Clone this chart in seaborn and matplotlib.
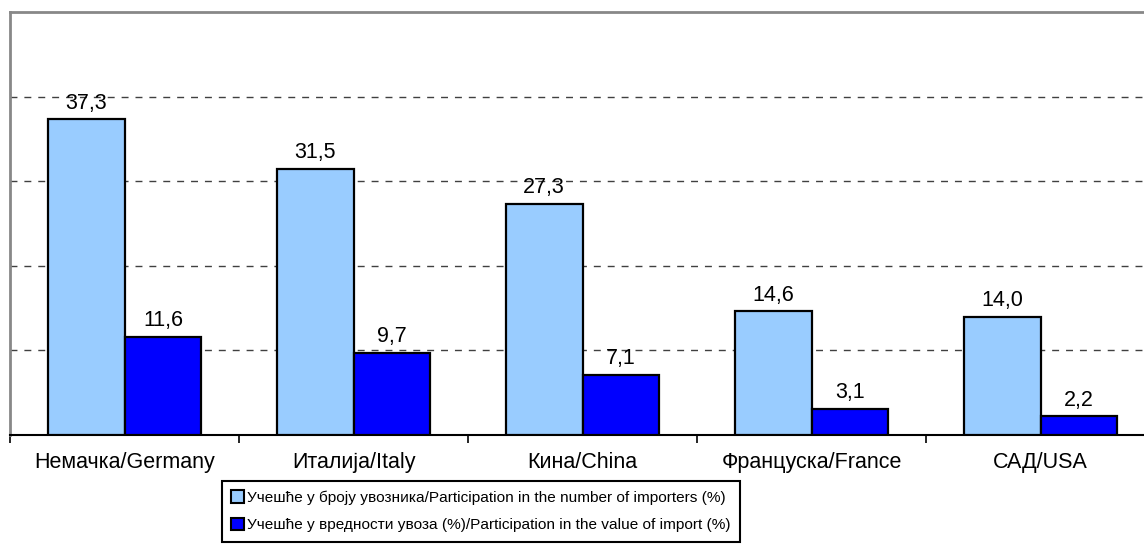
import matplotlib
matplotlib.use("Agg")
import matplotlib.pyplot as plt
import pandas as pd
import seaborn as sns
from matplotlib.patches import Patch

sns.set_theme(style="white")
plt.rcParams["font.family"] = ["Liberation Sans", "DejaVu Sans"]
plt.rcParams["text.color"] = "black"
plt.rcParams["xtick.color"] = "black"
plt.rcParams["xtick.labelcolor"] = "black"

countries = ["Немачка/Germany", "Италија/Italy", "Кина/China", "Француска/France", "САД/USA"]
importers_share = [37.3, 31.5, 27.3, 14.6, 14.0]
value_share = [11.6, 9.7, 7.1, 3.1, 2.2]
series_names = [
    "Учешће у броју увозника/Participation in the number of importers (%)",
    "Учешће у вредности увоза (%)/Participation in the value of import (%)",
]
colors = ["#99CCFF", "#0000FF"]

df = pd.DataFrame({
    "country": countries * 2,
    "value": importers_share + value_share,
    "series": [series_names[0]] * len(countries) + [series_names[1]] * len(countries),
})

fig = plt.figure(figsize=(11.44, 5.5), dpi=100)
ax = fig.add_axes([10 / 1144, 1 - 435 / 550, 1145 / 1144, 423 / 550])

sns.barplot(data=df, x="country", y="value", hue="series", palette=colors,
            saturation=1, width=0.672, edgecolor="black", linewidth=1.6,
            ax=ax, legend=False, zorder=3)

for cont in ax.containers:
    ax.bar_label(cont, labels=[f"{v:.1f}".replace(".", ",") for v in cont.datavalues],
                 padding=4, fontsize=15.5, color="black")

ax.set_ylim(0, 50)
ax.set_xlim(-0.5, 4.5)
for y in [10, 20, 30, 40]:
    ax.axhline(y, color="#404040", linestyle=(0, (5, 5)), linewidth=1, zorder=1)

ax.set_yticks([])
ax.set_xticks([i - 0.5 for i in range(6)])
ax.set_xticklabels([])
ax.set_xticks(range(5), minor=True)
ax.set_xticklabels(countries, minor=True, fontsize=15.5, color="black")
ax.tick_params(axis="x", which="major", direction="out", length=6, width=1.2,
               color="black", bottom=True)
ax.tick_params(axis="x", which="minor", length=0, pad=12)
ax.set_xlabel("")
ax.set_ylabel("")

for side in ["left", "top"]:
    ax.spines[side].set_color("#888888")
    ax.spines[side].set_linewidth(2)
ax.spines["right"].set_visible(False)
ax.spines["bottom"].set_color("black")
ax.spines["bottom"].set_linewidth(1.5)

handles = [Patch(facecolor=c, edgecolor="black", linewidth=1.5) for c in colors]
leg = fig.legend(handles, series_names, loc="upper left",
                 bbox_to_anchor=(222 / 1144, 1 - 481 / 550), fontsize=11.1,
                 frameon=True, fancybox=False, edgecolor="black", framealpha=1,
                 handlelength=0.85, handleheight=0.85, handletextpad=0.2,
                 labelspacing=0.85, borderpad=0.6, borderaxespad=0)
leg.get_frame().set_linewidth(1.5)

fig.savefig("out.png", dpi=100)
